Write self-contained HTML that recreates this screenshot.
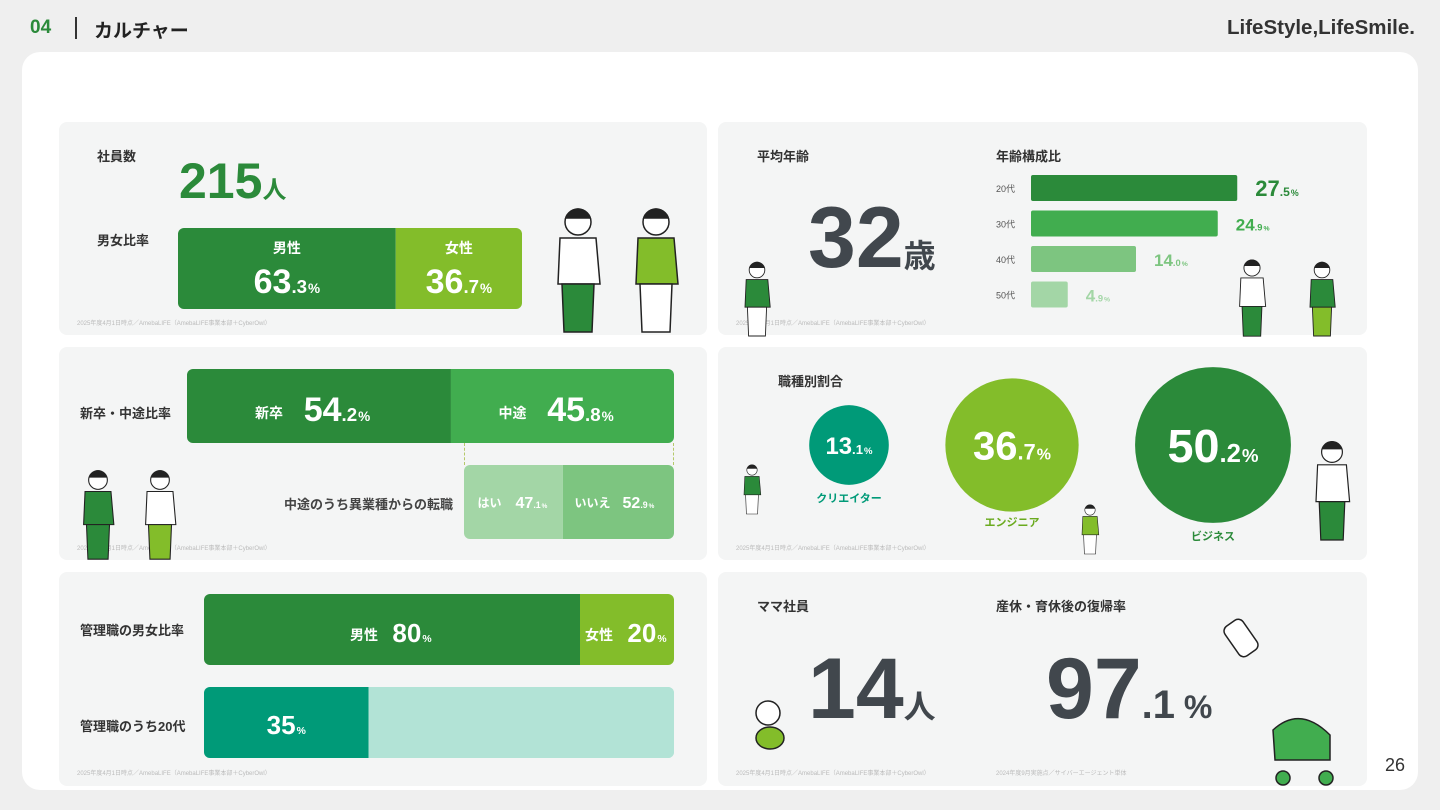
<!DOCTYPE html>
<html><head><meta charset="utf-8">
<style>
*{margin:0;padding:0;box-sizing:border-box}
body{width:1440px;height:810px;background:#efefef;font-family:"Liberation Sans","Noto Sans CJK JP",sans-serif;position:relative;overflow:hidden;color:#333}
.a{position:absolute}
.card{left:22px;top:52px;width:1396px;height:738px;background:#fff;border-radius:18px}
.panel{background:#f4f5f5;border-radius:8px}
.lbl{font-size:13px;font-weight:bold;color:#333}
.src{font-size:6px;color:#bbb}
.big{font-weight:bold;color:#41474d;line-height:1}
</style></head><body>
<div class="a" style="left:30px;top:17px;font-size:19px;font-weight:bold;color:#2b8a3a">04</div>
<div class="a" style="left:75px;top:17px;width:2px;height:22px;background:#333"></div>
<div class="a" style="left:94px;top:16px;font-size:19px;font-weight:bold;color:#222">カルチャー</div>
<div class="a" style="left:1227px;top:16px;font-size:20.5px;font-weight:bold;color:#333">LifeStyle,LifeSmile.</div>
<div class="a card"></div>
<div class="a" style="left:1385px;top:755px;font-size:18px;color:#333">26</div>

<div class="a panel" style="left:59px;top:122px;width:648px;height:213px"></div>
<div class="a panel" style="left:718px;top:122px;width:649px;height:213px"></div>
<div class="a panel" style="left:59px;top:347px;width:648px;height:213px"></div>
<div class="a panel" style="left:718px;top:347px;width:649px;height:213px"></div>
<div class="a panel" style="left:59px;top:572px;width:648px;height:214px"></div>
<div class="a panel" style="left:718px;top:572px;width:649px;height:214px"></div>

<div class="a lbl" style="left:97px;top:146px">社員数</div>
<div class="a" style="left:179px;top:156px;font-size:50px;font-weight:bold;color:#2b8a3a;line-height:1">215<span style="font-size:24px">人</span></div>
<div class="a lbl" style="left:97px;top:230px">男女比率</div>
<div class="a src" style="left:77px;top:318px">2025年度4月1日時点／AmebaLIFE（AmebaLIFE事業本部＋CyberOwl）</div>
<div class="a src" style="left:736px;top:318px">2025年度4月1日時点／AmebaLIFE（AmebaLIFE事業本部＋CyberOwl）</div>
<div class="a src" style="left:77px;top:543px">2025年度4月1日時点／AmebaLIFE（AmebaLIFE事業本部＋CyberOwl）</div>
<div class="a src" style="left:736px;top:543px">2025年度4月1日時点／AmebaLIFE（AmebaLIFE事業本部＋CyberOwl）</div>
<div class="a src" style="left:77px;top:768px">2025年度4月1日時点／AmebaLIFE（AmebaLIFE事業本部＋CyberOwl）</div>
<div class="a src" style="left:736px;top:768px">2025年度4月1日時点／AmebaLIFE（AmebaLIFE事業本部＋CyberOwl）</div>
<div class="a src" style="left:996px;top:768px">2024年度9月実施点／サイバーエージェント単体</div>

<div class="a lbl" style="left:757px;top:146px">平均年齢</div>
<div class="a big" style="left:808px;top:195px;font-size:86px">32<span style="font-size:32px">歳</span></div>
<div class="a lbl" style="left:996px;top:146px">年齢構成比</div>

<div class="a lbl" style="left:80px;top:403px">新卒・中途比率</div>
<div class="a lbl" style="left:284px;top:494px;color:#444">中途のうち異業種からの転職</div>
<div class="a" style="left:464px;top:443px;height:22px;border-left:1px dashed #b5c96a"></div>
<div class="a" style="left:673px;top:443px;height:22px;border-left:1px dashed #b5c96a"></div>

<div class="a lbl" style="left:778px;top:371px">職種別割合</div>

<div class="a lbl" style="left:80px;top:620px">管理職の男女比率</div>
<div class="a lbl" style="left:80px;top:716px">管理職のうち20代</div>

<div class="a lbl" style="left:757px;top:596px">ママ社員</div>
<div class="a big" style="left:808px;top:646px;font-size:86px">14<span style="font-size:32px">人</span></div>
<div class="a lbl" style="left:996px;top:596px">産休・育休後の復帰率</div>
<div class="a big" style="left:1046px;top:646px;font-size:86px">97<span style="font-size:40px">.1</span><span style="font-size:32px"> %</span></div>

<svg class="a" style="left:0;top:0" width="1440" height="810" id="svg"></svg>
<script>
const genderCats=['男性','女性'];
const genderVals=[63.3,36.7];
const hireCats=['新卒','中途'];
const hireVals=[54.2,45.8];
const changeCats=['はい','いいえ'];
const changeVals=[47.1,52.9];
const mgrCats=['男性','女性'];
const mgrVals=[80,20];
const mgr20Vals=[35];
const ageCats=['20代','30代','40代','50代'];
const ageVals=[27.5,24.9,14.0,4.9];
const jobCats=['クリエイター','エンジニア','ビジネス'];
const jobVals=[13.1,36.7,50.2];

const NS='http://www.w3.org/2000/svg';
const svg=document.getElementById('svg');
function mk(t,a,p){const e=document.createElementNS(NS,t);for(const k in a)e.setAttribute(k,a[k]);(p||svg).appendChild(e);return e;}
function valText(x,y,v,size,color,anchor,name,intOnly){
  const t=mk('text',{x:x,y:y,'font-size':size,'font-weight':'bold',fill:color,'text-anchor':anchor||'middle','font-family':'Liberation Sans, Noto Sans CJK JP, sans-serif'});
  
  
  const p=v.toFixed(1).split('.');
  const a=mk('tspan',{},t);a.textContent=intOnly?Math.round(v):p[0];
  if(!intOnly){const b=mk('tspan',{'font-size':size*0.55},t);b.textContent='.'+p[1];}
  const c=mk('tspan',{'font-size':size*0.4,dx:1},t);c.textContent='%';
  return t;
}
function label(x,y,s,size,color,name,anchor){
  const t=mk('text',{x:x,y:y,'font-size':size,'font-weight':'bold',fill:color,'text-anchor':anchor||'middle','font-family':'Liberation Sans, Noto Sans CJK JP, sans-serif'});
  
  
  t.textContent=s;return t;
}
function stacked(x0,y0,w,h,vals,colors,r,name){
  const tot=vals.reduce((a,b)=>a+b,0);
  const g=mk('g',{});
  
  
  const cp='c'+name;
  const d=mk('clipPath',{id:cp},g);mk('rect',{x:x0,y:y0,width:w,height:h,rx:r},d);
  let x=x0;const segs=[];
  vals.forEach((v,i)=>{const sw=w*v/tot;const rc=mk('rect',{x:x,y:y0,width:sw,height:h,fill:colors[i],'clip-path':'url(#'+cp+')'},g);
    
    
    segs.push([x,sw]);x+=sw;});
  return segs;
}
let s=stacked(178,228,344,81,genderVals,['#2b8a3a','#83bd2a'],6,'gender-bar');
s.forEach((g,i)=>{const cx=g[0]+g[1]/2;label(cx,253,genderCats[i],14,'#fff','gender-cat-'+i);valText(cx,293,genderVals[i],34,'#fff','middle','gender-val-'+i);});
s=stacked(187,369,487,74,hireVals,['#2b8a3a','#41ad4f'],6,'hire-bar');
s.forEach((g,i)=>{const cx=g[0]+g[1]/2;label(cx-50,418,hireCats[i],14,'#fff','hire-cat-'+i);valText(cx+18,421,hireVals[i],34,'#fff','middle','hire-val-'+i);});
s=stacked(464,465,210,74,changeVals,['#a3d6a6','#7dc580'],6,'change-bar');
s.forEach((g,i)=>{const cx=g[0]+g[1]/2;label(cx-(i?26:24),507,changeCats[i],12,'#fff','change-cat-'+i);valText(cx+(i?20:18),508,changeVals[i],16,'#fff','middle','change-val-'+i);});
s=stacked(204,594,470,71,mgrVals,['#2b8a3a','#83bd2a'],6,'manager-bar');
s.forEach((g,i)=>{const cx=g[0]+g[1]/2;label(cx-28,640,mgrCats[i],14,'#fff','manager-cat-'+i);valText(cx+20,642,mgrVals[i],26,'#fff','middle','manager-val-'+i,true);});
mk('rect',{x:204,y:687,width:470,height:71,rx:6,fill:'#b2e3d6'});
s=stacked(204,687,470,71,[mgr20Vals[0],100-mgr20Vals[0]],['#009a78','#b2e3d6'],6,'manager-20s-bar');
valText(s[0][0]+s[0][1]/2,734,mgr20Vals[0],26,'#fff','middle','manager-20s-val',true);
const ageColors=['#2b8a3a','#41ad4f','#7dc580','#a3d6a6'];
const ax=v=>1031+v*7.5;
ageVals.forEach((v,i)=>{const yc=188+i*35.5;
  label(996,yc+4,ageCats[i],9,'#555','age-cat-'+i,'start').setAttribute('font-weight','normal');
  const r=mk('rect',{x:1031,y:yc-13,width:Math.max(3,ax(v)-1031),height:26,rx:2,fill:ageColors[i]});
  
  
  valText(ax(v)+18,yc+(i?7:8),v,i?17:22,ageColors[i],'start','age-val-'+i);
});
const jobX=[849,1012,1213],jobColors=['#009a78','#83bd2a','#2b8a3a'],jobLblY=[502,526,540],jobLblC=['#009a78','#6aaa1e','#2b8a3a'];
jobVals.forEach((v,i)=>{const r=11*Math.sqrt(v);
  const c=mk('circle',{cx:jobX[i],cy:445,r:r,fill:jobColors[i]});
  
  
  valText(jobX[i],445+r*0.22,v,r*0.6,'#fff','middle','job-val-'+i);
  label(jobX[i],jobLblY[i],jobCats[i],11,jobLblC[i],'job-cat-'+i);
});
function fig(x,y,shirt,pants,name,sc){
  sc=sc||1;
  const g=mk('g',{stroke:'#222','stroke-width':1.5,transform:`translate(${x} ${y}) scale(${sc})`});
  
  
  mk('circle',{cx:0,cy:0,r:13,fill:'#fff'},g);
  mk('path',{d:'M-12 -4 Q0 -22 12 -4 Z',fill:'#222'},g);
  mk('path',{d:'M-18 16 L18 16 L22 62 L-20 62 Z',fill:shirt},g);
  mk('path',{d:'M-16 62 L16 62 L14 110 L-14 110 Z',fill:pants},g);
}
fig(578,222,'#fff','#2b8a3a','person-man');
fig(656,222,'#83bd2a','#fff','person-woman');
fig(757,270,'#2b8a3a','#fff','person-age-left',0.6);
fig(1252,268,'#fff','#2b8a3a','person-age-mid',0.62);
fig(1322,270,'#2b8a3a','#83bd2a','person-age-right',0.6);
fig(98,480,'#2b8a3a','#2b8a3a','person-suit',0.72);
fig(160,480,'#fff','#83bd2a','person-glasses',0.72);
fig(1332,452,'#fff','#2b8a3a','person-business',0.8);
fig(1090,510,'#83bd2a','#fff','person-engineer',0.4);
fig(752,470,'#2b8a3a','#fff','person-creator',0.4);
const b=mk('g',{stroke:'#222','stroke-width':1.5});
mk('circle',{cx:768,cy:713,r:12,fill:'#fff'},b);mk('ellipse',{cx:770,cy:738,rx:14,ry:11,fill:'#83bd2a'},b);
const st=mk('g',{stroke:'#222','stroke-width':1.5});
mk('path',{d:'M1273 730 Q1300 705 1330 735 L1330 760 L1275 760 Z',fill:'#41ad4f'},st);
mk('circle',{cx:1283,cy:778,r:7,fill:'#41ad4f'},st);mk('circle',{cx:1326,cy:778,r:7,fill:'#41ad4f'},st);
const bt=mk('g',{stroke:'#222','stroke-width':1.5});
mk('rect',{x:1230,y:620,width:22,height:36,rx:6,fill:'#fff',transform:'rotate(-35 1241 638)'},bt);
</script>
</body></html>
